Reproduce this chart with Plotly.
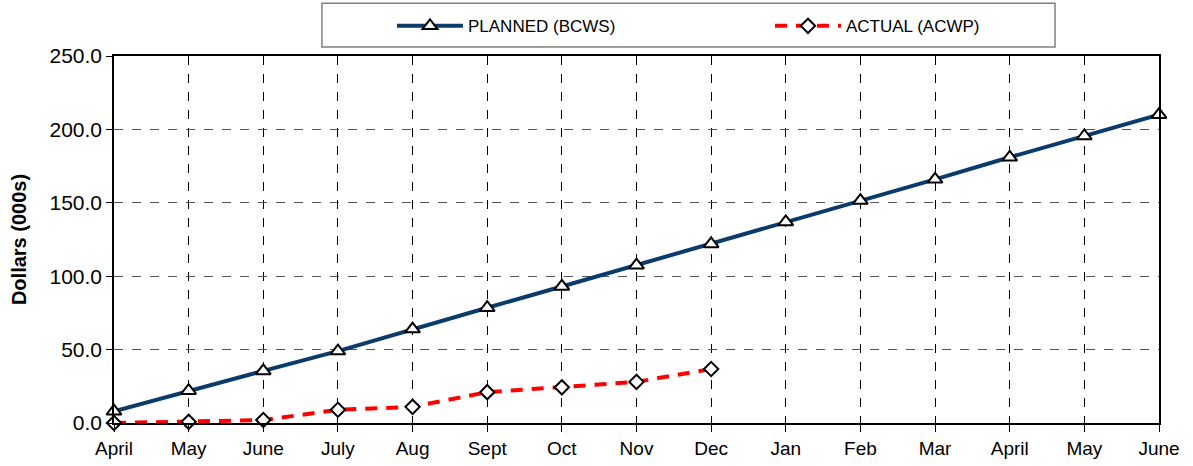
import plotly.graph_objects as go

months = ["April", "May", "June", "July", "Aug", "Sept", "Oct", "Nov", "Dec",
          "Jan", "Feb", "Mar", "April", "May", "June"]
planned = [8, 22, 35.5, 49, 64, 78.5, 93, 107.5, 122, 137, 151.5, 166, 181, 195.5, 210]
actual = [0, 0.8, 2, 9, 11, 21, 24.3, 28, 36.8]
y_ticks = [0, 50, 100, 150, 200, 250]
y_tick_labels = ["0.0", "50.0", "100.0", "150.0", "200.0", "250.0"]

x_pos = list(range(len(months)))

fig = go.Figure()
fig.add_trace(go.Scatter(
    x=x_pos, y=planned, name="PLANNED (BCWS)", mode="lines+markers",
    line=dict(color="#0B3B6A", width=4),
    marker=dict(symbol="triangle-up", size=13, color="white",
                line=dict(color="black", width=2)),
    cliponaxis=False,
))
fig.add_trace(go.Scatter(
    x=x_pos[:len(actual)], y=actual, name="ACTUAL (ACWP)", mode="lines+markers",
    line=dict(color="#FF0000", width=4, dash="12px,9px"),
    marker=dict(symbol="diamond", size=11, color="white",
                line=dict(color="black", width=2)),
    cliponaxis=False,
))

# legend frame (plot area: 1045 x 367 px)
fig.add_shape(type="rect", xref="paper", yref="paper",
              x0=0.199, x1=0.9005, y0=1.0245, y1=1.144,
              line=dict(color="#808080", width=1.5), fillcolor="white", layer="below")

fig.update_layout(
    width=1193, height=466,
    margin=dict(l=114, r=34, t=56, b=43, autoexpand=False),
    paper_bgcolor="white", plot_bgcolor="white",
    font=dict(family="Liberation Sans, Arial, sans-serif", size=19, color="black"),
    showlegend=True,
    legend=dict(orientation="h", x=0.266, y=1.13, xanchor="left", yanchor="top",
                font=dict(size=17), itemwidth=66, entrywidth=297, entrywidthmode="pixels",
                bgcolor="rgba(0,0,0,0)", borderwidth=0),
    xaxis=dict(
        range=[0, 14], tickmode="array", tickvals=x_pos, ticktext=months,
        showgrid=True, gridcolor="black", griddash="dash", gridwidth=1,
        showline=True, linecolor="black", linewidth=1.5, mirror=True,
        ticks="outside", ticklen=7, tickcolor="black", tickwidth=1,
        tickfont=dict(size=19),
        zeroline=False, fixedrange=True, automargin=False,
    ),
    yaxis=dict(
        range=[0, 250], tickmode="array", tickvals=y_ticks, ticktext=y_tick_labels,
        showgrid=True, gridcolor="#555555", griddash="dash", gridwidth=1,
        showline=True, linecolor="black", linewidth=1.5, mirror=True,
        ticks="outside", ticklen=6, tickcolor="black",
        tickfont=dict(size=21),
        zeroline=False, fixedrange=True, automargin=False,
        title=dict(text="<b>Dollars (000s)</b>", font=dict(size=20), standoff=17),
    ),
)

fig.write_html("out.html", config={"displayModeBar": False},
               post_script="document.body.style.margin='0';")
